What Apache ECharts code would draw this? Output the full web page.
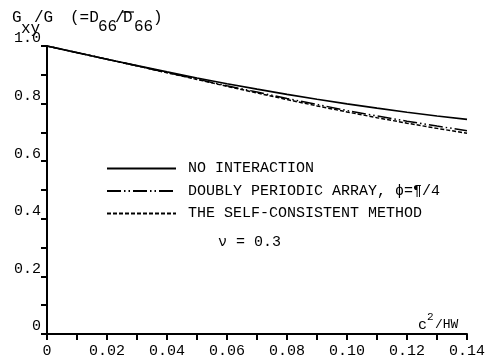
<!DOCTYPE html>
<html>
<head>
<meta charset="utf-8">
<script src="https://cdn.jsdelivr.net/npm/echarts@6/dist/echarts.min.js"></script>
<style>
	html,body{margin:0;padding:0;background:#fff;}
	#chart{width:489px;height:360px;}
</style>
</head>
<body>
<div id="chart"></div>
<script>
// c^2/HW
var xValues = [0, 0.01, 0.02, 0.03, 0.04, 0.05, 0.06, 0.07, 0.08, 0.09, 0.10, 0.11, 0.12, 0.13, 0.14]
// Gxy/G
var noInteraction  = [1.000, 0.977, 0.954, 0.932, 0.910, 0.889, 0.869, 0.850, 0.832, 0.815, 0.799, 0.784, 0.770, 0.757, 0.745]
var doublyPeriodic = [1.000, 0.977, 0.954, 0.931, 0.908, 0.885, 0.862, 0.840, 0.818, 0.797, 0.776, 0.757, 0.739, 0.722, 0.706]
var selfConsistent = [1.000, 0.977, 0.954, 0.931, 0.907, 0.884, 0.860, 0.837, 0.814, 0.792, 0.771, 0.751, 0.732, 0.714, 0.697]
var seriesNames = ['NO INTERACTION', 'DOUBLY PERIODIC ARRAY, \u03d5=\u00b6/4', 'THE SELF-CONSISTENT METHOD']
var xTickLabels = ['0', '0.02', '0.04', '0.06', '0.08', '0.10', '0.12', '0.14']
var yTickLabels = ['0', '0.2', '0.4', '0.6', '0.8', '1.0']

var FONT = "'Liberation Mono', 'DejaVu Sans Mono', monospace"

function pairs(ys){
	return xValues.map(function(x, i){ return [x, ys[i]] })
}

var chart = echarts.init(document.getElementById('chart'))

var option = {
	backgroundColor: '#fff',
	animation: false,
	grid: { left: 47, right: 22, top: 46, bottom: 26 },
	xAxis: {
		type: 'value',
		min: 0, max: 0.14, interval: 0.01,
		splitLine: { show: false },
		axisLine: { lineStyle: { color: '#000', width: 2 } },
		axisTick: { length: 6, lineStyle: { color: '#000', width: 2 } },
		axisLabel: {
			margin: 10, color: '#000', fontFamily: FONT, fontSize: 15,
			formatter: function(v){
				var k = Math.round(v * 100)
				return k % 2 === 0 ? xTickLabels[k / 2] : ''
			}
		}
	},
	yAxis: {
		type: 'value',
		min: 0, max: 1, interval: 0.1,
		splitLine: { show: false },
		axisLine: { lineStyle: { color: '#000', width: 2 } },
		axisTick: { length: 6, lineStyle: { color: '#000', width: 2 } },
		axisLabel: {
			margin: 6, color: '#000', fontFamily: FONT, fontSize: 15,
			verticalAlign: 'bottom',
			formatter: function(v){
				var k = Math.round(v * 10)
				return k % 2 === 0 ? yTickLabels[k / 2] : ''
			}
		}
	},
	legend: {
		orient: 'vertical',
		left: 101, top: 156,
		itemWidth: 69, itemHeight: 14, itemGap: 7.5,
		itemStyle: { opacity: 0 },
		textStyle: { color: '#000', fontFamily: FONT, fontSize: 15, padding: [0, 0, 0, 7] },
		data: seriesNames
	},
	series: [
		{
			name: seriesNames[0], type: 'line', symbol: 'none',
			data: pairs(noInteraction),
			lineStyle: { color: '#000', width: 1.7, type: 'solid' },
			itemStyle: { color: '#000' }
		},
		{
			name: seriesNames[1], type: 'line', symbol: 'none',
			data: pairs(doublyPeriodic),
			lineStyle: { color: '#000', width: 1.5, type: [14, 3, 1.5, 3, 1.5, 3] },
			itemStyle: { color: '#000' }
		},
		{
			name: seriesNames[2], type: 'line', symbol: 'none',
			data: pairs(selfConsistent),
			lineStyle: { color: '#000', width: 1.5, type: [4, 2] },
			itemStyle: { color: '#000' }
		}
	],
	graphic: [
		// y axis title  Gxy/G (=D66/D66)
		{ type: 'text', left: 12, top: 10, style: { text: 'G', font: '16px ' + FONT, fill: '#000' } },
		{ type: 'text', left: 21, top: 21, style: { text: 'xy', font: '16px ' + FONT, fill: '#000' } },
		{ type: 'text', left: 34, top: 10, style: { text: '/G', font: '16px ' + FONT, fill: '#000' } },
		{ type: 'text', left: 70, top: 10, style: { text: '(=D', font: '16px ' + FONT, fill: '#000' } },
		{ type: 'text', left: 98, top: 19, style: { text: '66', font: '16px ' + FONT, fill: '#000' } },
		{ type: 'text', left: 115, top: 10, style: { text: '/', font: '16px ' + FONT, fill: '#000' } },
		{ type: 'text', left: 123, top: 10, style: { text: 'D', font: '16px ' + FONT, fill: '#000' } },
		{ type: 'line', shape: { x1: 122, y1: 12, x2: 134, y2: 12 }, style: { stroke: '#000', lineWidth: 1.2 } },
		{ type: 'text', left: 134, top: 19, style: { text: '66', font: '16px ' + FONT, fill: '#000' } },
		{ type: 'text', left: 153, top: 10, style: { text: ')', font: '16px ' + FONT, fill: '#000' } },
		// x axis title
		{ type: 'text', left: 418, top: 318, style: { text: 'c', font: '15px ' + FONT, fill: '#000' } },
		{ type: 'text', left: 427, top: 312, style: { text: '2', font: '11px ' + FONT, fill: '#000' } },
		{ type: 'text', left: 435, top: 318, style: { text: '/HW', font: '13px ' + FONT, fill: '#000' } },
		// poisson ratio note
		{ type: 'text', left: 218, top: 235, style: { text: '\u03bd = 0.3', font: '15px ' + FONT, fill: '#000' } }
	]
}

chart.setOption(option)
</script>
</body>
</html>
